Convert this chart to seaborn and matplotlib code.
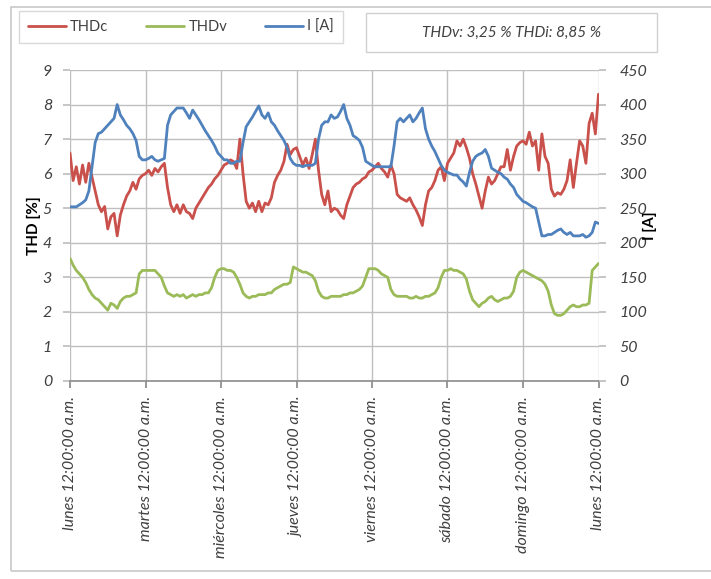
import numpy as np
import pandas as pd
import matplotlib
matplotlib.use("Agg")
import matplotlib.pyplot as plt
from matplotlib.patches import Rectangle
from matplotlib.lines import Line2D
import seaborn as sns

# Weekly log, one reading per hour (hour 0 = lunes 12:00:00 a.m.)
day_labels = ["lunes", "martes", "miércoles", "jueves", "viernes",
              "sábado", "domingo", "lunes"]

# Current distortion THDc [%]
thdc = [
    6.6, 5.8, 6.2, 5.7, 6.25, 5.75, 6.3, 5.9, 5.5, 5.1, 4.9, 5.05,
    4.4, 4.75, 4.85, 4.2, 4.8, 5.1, 5.35, 5.5, 5.75, 5.55, 5.85, 5.95,
    6.0, 6.1, 5.95, 6.15, 6.05, 6.2, 6.3, 5.6, 5.1, 4.9, 5.1, 4.85,
    5.1, 4.9, 4.85, 4.7, 5.0, 5.15, 5.3, 5.45, 5.6, 5.7, 5.85, 5.95,
    6.1, 6.25, 6.3, 6.4, 6.35, 6.15, 7.0, 6.0, 5.2, 5.0, 5.15, 4.9,
    5.2, 4.9, 5.15, 5.1, 5.3, 5.75, 5.95, 6.1, 6.35, 6.85, 6.55, 6.7,
    6.75, 6.5, 6.25, 6.45, 6.15, 6.55, 7.0, 6.1, 5.4, 5.1, 5.5, 4.9,
    5.0, 4.95, 4.8, 4.7, 5.1, 5.35, 5.6, 5.7, 5.75, 5.85, 5.9, 6.05,
    6.1, 6.2, 6.3, 6.15, 6.05, 5.9, 6.25, 6.0, 5.4, 5.3, 5.25, 5.2,
    5.3, 5.1, 4.95, 4.75, 4.5, 5.1, 5.5, 5.6, 5.8, 6.1, 6.2, 5.8,
    6.3, 6.45, 6.6, 6.95, 6.8, 7.0, 6.75, 6.45, 6.0, 5.7, 5.35, 5.0,
    5.5, 5.9, 5.7, 5.8, 6.0, 6.2, 6.2, 6.7, 6.1, 6.5, 6.8, 6.9,
    6.95, 6.85, 7.2, 6.8, 6.95, 6.1, 7.15, 6.5, 6.3, 5.55, 5.35, 5.45,
    5.4, 5.55, 5.8, 6.4, 5.6, 6.3, 6.95, 6.8, 6.3, 7.45, 7.75, 7.15,
    8.3,
]

# Voltage distortion THDv [%]
thdv = [
    3.55, 3.35, 3.2, 3.1, 3.0, 2.85, 2.65, 2.5, 2.4, 2.35, 2.25, 2.15,
    2.05, 2.25, 2.2, 2.1, 2.3, 2.4, 2.45, 2.45, 2.5, 2.55, 3.1, 3.2,
    3.2, 3.2, 3.2, 3.2, 3.1, 3.0, 2.75, 2.55, 2.5, 2.45, 2.5, 2.45,
    2.5, 2.4, 2.45, 2.5, 2.45, 2.5, 2.5, 2.55, 2.55, 2.7, 3.0, 3.2,
    3.25, 3.25, 3.2, 3.2, 3.15, 3.0, 2.8, 2.55, 2.45, 2.4, 2.45, 2.45,
    2.5, 2.5, 2.5, 2.55, 2.55, 2.65, 2.7, 2.75, 2.8, 2.8, 2.85, 3.3,
    3.25, 3.2, 3.15, 3.15, 3.1, 3.05, 2.9, 2.6, 2.45, 2.4, 2.4, 2.45,
    2.45, 2.45, 2.45, 2.5, 2.5, 2.55, 2.55, 2.6, 2.65, 2.75, 3.0, 3.25,
    3.25, 3.25, 3.2, 3.1, 3.05, 3.0, 2.65, 2.5, 2.45, 2.45, 2.45, 2.45,
    2.4, 2.4, 2.45, 2.4, 2.4, 2.45, 2.45, 2.5, 2.55, 2.7, 3.0, 3.2,
    3.2, 3.25, 3.2, 3.2, 3.15, 3.1, 2.95, 2.6, 2.35, 2.25, 2.15, 2.25,
    2.3, 2.4, 2.45, 2.35, 2.3, 2.35, 2.4, 2.4, 2.45, 2.6, 3.0, 3.15,
    3.2, 3.15, 3.1, 3.05, 3.0, 2.95, 2.9, 2.8, 2.6, 2.2, 1.95, 1.9,
    1.9, 1.95, 2.05, 2.15, 2.2, 2.15, 2.15, 2.2, 2.2, 2.25, 3.2, 3.3,
    3.4,
]

# Load current I [A]
current = [
    252, 252, 252, 255, 258, 262, 275, 310, 345, 358, 360, 365,
    370, 375, 380, 400, 385, 378, 370, 365, 358, 348, 325, 320,
    320, 322, 325, 320, 318, 320, 322, 370, 385, 390, 395, 395,
    395, 388, 380, 392, 385, 378, 370, 362, 355, 348, 340, 330,
    325, 320, 320, 315, 315, 318, 318, 345, 368, 375, 382, 390,
    398, 385, 380, 388, 375, 370, 362, 355, 348, 338, 322, 315,
    312, 312, 310, 312, 312, 312, 315, 350, 370, 375, 375, 385,
    380, 382, 390, 400, 380, 370, 355, 352, 348, 338, 318, 315,
    312, 310, 310, 310, 310, 310, 310, 340, 375, 380, 375, 380,
    385, 375, 380, 388, 395, 365, 350, 340, 332, 322, 312, 305,
    302, 300, 298, 298, 292, 288, 282, 302, 318, 325, 328, 330,
    335, 325, 308, 305, 302, 300, 295, 292, 285, 280, 270, 265,
    260, 258, 255, 252, 250, 230, 210, 210, 212, 212, 215, 218,
    220, 215, 212, 215, 210, 210, 210, 212, 208, 210, 215, 230,
    228,
]

summary_text = "THDv: 3,25 % THDi: 8,85 %"

hours = np.arange(len(thdc))
df = pd.DataFrame({"hora": hours, "THDc": thdc, "THDv": thdv, "I [A]": current})

c_red = "#C9504B"
c_green = "#9BBB59"
c_blue = "#4F81BD"
grid_c = "#BFBFBF"
tick_c = "#404040"

sns.set_theme(style="white")
plt.rcParams["font.family"] = ["Lato", "DejaVu Sans"]

W, H = 711, 579
fig = plt.figure(figsize=(W / 100, H / 100), dpi=100)
ax_w = 598.5 - 70
ax = fig.add_axes([70 / W, 1 - 381 / H, ax_w / W, (381 - 70) / H])
ax2 = ax.twinx()

sns.lineplot(data=df, x="hora", y="THDc", ax=ax, color=c_red, linewidth=2.0, zorder=3)
sns.lineplot(data=df, x="hora", y="THDv", ax=ax, color=c_green, linewidth=2.0, zorder=3)
sns.lineplot(data=df, x="hora", y="I [A]", ax=ax2, color=c_blue, linewidth=2.0, zorder=3)

ax.set_xlim(0, 168)
ax.set_ylim(0, 9)
ax2.set_ylim(0, 450)
ax.set_yticks(np.arange(0, 10, 1))
ax2.set_yticks(np.arange(0, 451, 50))
ax.set_xticks(np.arange(0, 169, 24))
ax.set_xticklabels([f"{d} 12:00:00 a.m." for d in day_labels], rotation=90,
                   ha="center", va="top", style="italic", color=tick_c, fontsize=11.5)
for lab in ax.get_yticklabels():
    lab.set_style("italic"); lab.set_color(tick_c); lab.set_fontsize(11.5)
for lab in ax2.get_yticklabels():
    lab.set_style("italic"); lab.set_color(tick_c); lab.set_fontsize(11.5)

ax.grid(True, color=grid_c, linewidth=1.0)
ax.set_axisbelow(True)
ax2.grid(False)
for a in (ax, ax2):
    for s in a.spines.values():
        s.set_visible(False)
ax.spines["bottom"].set_visible(True)
ax.spines["bottom"].set_color("#8C8C8C")
ax.spines["bottom"].set_linewidth(1.2)

ax.tick_params(axis="y", length=5, color=grid_c, pad=8, left=True)
ax2.tick_params(axis="y", length=5, color=grid_c, pad=10, right=True)
ax.tick_params(axis="x", length=5, color="#8C8C8C", pad=6, bottom=True)

ax.set_xlabel("")
ax.set_ylabel("THD [%]", fontweight="bold", fontsize=11, color="black")
ax2.set_ylabel("I [A]", fontweight="bold", fontsize=11, color="black", rotation=90)
ax.yaxis.set_label_coords(-29 / ax_w, 0.5)
ax2.yaxis.set_label_coords((643 - 70) / ax_w, 0.5)

# Outer chart frame
fig.patches.append(Rectangle((11 / W, 1 - 571 / H), 1.0, (571 - 7) / H,
                             transform=fig.transFigure, fill=False,
                             edgecolor="#C8C8C8", linewidth=1.2))

# Legend box
handles = [Line2D([], [], color=c, linewidth=2.0) for c in (c_red, c_green, c_blue)]
leg = fig.legend(handles, ["THDc", "THDv", "I [A]"], loc="center",
                 bbox_to_anchor=(15 / W, 1 - 44 / H, (347 - 15) / W, (44 - 10) / H),
                 ncol=3, frameon=True, fancybox=False, fontsize=10.5,
                 handlelength=2.6, handletextpad=0.3, columnspacing=2.6,
                 borderpad=0.6)
leg.get_frame().set_edgecolor("#D0D0D0")
leg.get_frame().set_linewidth(1.0)
for t in leg.get_texts():
    t.set_color(tick_c)

# Summary box
fig.patches.append(Rectangle((366 / W, 1 - 52 / H), (657 - 366) / W, (52 - 13) / H,
                             transform=fig.transFigure, fill=True, facecolor="white",
                             edgecolor="#D0D0D0", linewidth=1.0))
fig.text((366 + 657) / 2 / W, 1 - 32.5 / H, summary_text, ha="center", va="center",
         style="italic", fontsize=11, color=tick_c)

fig.savefig("out.png", dpi=100)
